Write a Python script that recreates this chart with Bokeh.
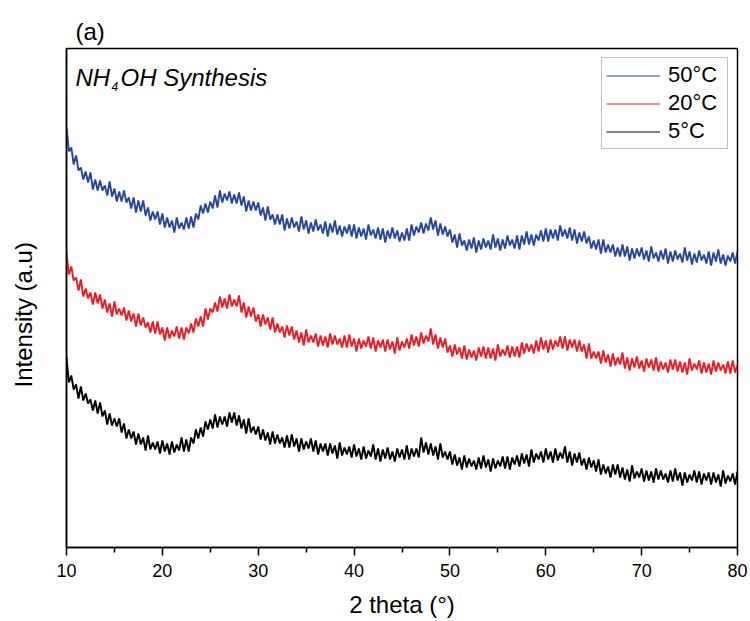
from bokeh.plotting import figure
from bokeh.models import FixedTicker, Label, Legend, LegendItem, Range1d, Title
from bokeh.embed import file_html
from bokeh.resources import INLINE

# 2-theta sampling grid (degrees), 0.25 deg step from 10 to 80
two_theta = [10 + 0.25 * i for i in range(281)]

# Intensity (a.u.).
# *_hi: upper edge of the noisy trace at whole/half degrees
# *_lo: lower edge of the noisy trace at the quarter degrees in between
int_50C_hi = [
    420, 400, 392, 380, 376, 375, 368, 367, 362, 366,
    359, 356, 357, 350, 350, 347, 347, 340, 336, 336,
    334, 330, 327, 330, 325, 330, 331, 334, 342, 344,
    346, 352, 357, 354, 356, 353, 355, 351, 347, 346,
    345, 340, 341, 333, 333, 333, 329, 330, 326, 331,
    327, 325, 328, 323, 326, 324, 327, 322, 321, 323,
    323, 320, 319, 323, 318, 320, 319, 317, 320, 317,
    315, 319, 323, 321, 325, 324, 330, 327, 324, 321,
    318, 313, 314, 307, 308, 310, 307, 309, 307, 313,
    309, 308, 312, 308, 312, 312, 316, 313, 313, 317,
    319, 318, 318, 322, 318, 320, 318, 315, 316, 311,
    307, 308, 308, 303, 303, 300, 303, 301, 299, 299,
    300, 297, 301, 295, 297, 299, 296, 297, 294, 300,
    296, 294, 297, 293, 296, 295, 298, 293, 292, 295,
    296,
]
int_50C_lo = [
    396, 383, 377, 368, 365, 358, 357, 357, 352, 351,
    346, 346, 345, 339, 335, 336, 332, 327, 328, 323,
    320, 320, 315, 319, 318, 319, 320, 328, 334, 335,
    339, 340, 345, 347, 344, 344, 342, 336, 337, 337,
    332, 327, 328, 323, 323, 317, 319, 320, 316, 318,
    314, 316, 317, 314, 311, 315, 313, 311, 314, 311,
    309, 311, 308, 312, 309, 308, 305, 309, 309, 306,
    307, 307, 312, 315, 314, 317, 318, 312, 313, 311,
    305, 300, 302, 297, 299, 295, 298, 300, 298, 300,
    297, 299, 302, 299, 298, 303, 303, 302, 307, 306,
    306, 309, 307, 311, 309, 307, 304, 306, 304, 299,
    298, 294, 295, 295, 291, 291, 291, 287, 289, 291,
    288, 286, 289, 286, 288, 284, 286, 288, 285, 287,
    283, 285, 287, 284, 282, 286, 284, 282, 286, 284,
]
int_20C_hi = [
    295, 281, 270, 268, 259, 255, 255, 253, 248, 244,
    246, 239, 240, 237, 234, 234, 230, 225, 226, 226,
    220, 220, 217, 221, 220, 220, 224, 229, 231, 239,
    239, 245, 251, 249, 253, 248, 252, 245, 241, 240,
    233, 233, 230, 230, 224, 221, 222, 221, 217, 215,
    218, 212, 214, 212, 211, 214, 212, 209, 212, 213,
    209, 209, 207, 211, 210, 207, 208, 208, 206, 210,
    206, 209, 213, 211, 215, 212, 219, 213, 210, 209,
    202, 203, 200, 202, 198, 197, 200, 201, 200, 199,
    203, 198, 202, 201, 201, 205, 204, 203, 207, 210,
    207, 208, 207, 211, 211, 208, 208, 207, 203, 204,
    196, 196, 197, 193, 194, 190, 195, 190, 189, 191,
    187, 189, 188, 190, 186, 185, 188, 188, 186, 185,
    189, 184, 187, 185, 184, 187, 185, 183, 186, 187,
    183,
]
int_20C_lo = [
    273, 267, 257, 251, 249, 243, 244, 239, 235, 231,
    233, 232, 227, 226, 221, 222, 220, 215, 214, 213,
    207, 209, 211, 209, 208, 214, 215, 221, 221, 228,
    235, 236, 240, 239, 241, 241, 235, 230, 231, 226,
    221, 223, 218, 215, 215, 210, 212, 208, 205, 202,
    205, 205, 201, 202, 200, 203, 203, 200, 200, 201,
    196, 199, 201, 199, 196, 200, 196, 198, 194, 197,
    200, 199, 202, 201, 204, 206, 203, 199, 200, 195,
    191, 193, 189, 188, 190, 187, 191, 189, 189, 187,
    191, 192, 190, 191, 190, 194, 196, 194, 196, 198,
    195, 198, 201, 199, 197, 200, 196, 196, 189, 189,
    189, 184, 185, 181, 182, 183, 179, 177, 180, 179,
    176, 180, 177, 176, 178, 175, 178, 176, 175, 173,
    177, 178, 174, 175, 173, 176, 177, 174, 174, 175,
]
int_5C_hi = [
    190, 172, 163, 161, 154, 148, 147, 145, 137, 134,
    129, 129, 124, 118, 116, 114, 110, 112, 105, 106,
    107, 104, 106, 103, 110, 108, 110, 118, 120, 126,
    128, 133, 131, 131, 135, 135, 132, 128, 129, 121,
    121, 118, 115, 116, 113, 110, 112, 113, 109, 109,
    106, 109, 107, 104, 104, 104, 102, 105, 100, 101,
    103, 99, 101, 97, 103, 99, 98, 100, 96, 99,
    98, 102, 99, 99, 110, 105, 104, 101, 104, 96,
    96, 93, 90, 92, 89, 87, 90, 92, 88, 89,
    87, 91, 91, 90, 92, 94, 93, 98, 94, 96,
    99, 96, 99, 95, 101, 96, 94, 95, 89, 90,
    87, 88, 83, 81, 83, 83, 80, 78, 82, 76,
    79, 77, 76, 79, 77, 74, 77, 79, 75, 75,
    73, 77, 76, 74, 75, 75, 73, 77, 72, 74,
    76,
]
int_5C_lo = [
    165, 158, 149, 147, 144, 137, 134, 131, 123, 122,
    121, 115, 109, 109, 103, 103, 97, 98, 98, 94,
    96, 93, 95, 97, 96, 96, 104, 109, 111, 118,
    119, 120, 123, 121, 125, 122, 119, 114, 115, 113,
    108, 107, 103, 104, 104, 100, 100, 101, 96, 98,
    99, 96, 93, 96, 92, 94, 89, 92, 93, 90,
    91, 88, 89, 91, 88, 86, 89, 88, 86, 90,
    88, 88, 91, 90, 95, 93, 92, 88, 90, 88,
    83, 82, 78, 80, 81, 78, 79, 80, 76, 79,
    81, 79, 78, 83, 81, 84, 81, 85, 88, 85,
    88, 85, 87, 89, 85, 82, 85, 82, 78, 80,
    76, 73, 74, 70, 73, 70, 68, 66, 69, 70,
    66, 67, 65, 68, 68, 65, 66, 67, 62, 65,
    67, 65, 63, 67, 63, 65, 61, 64, 66, 63,
]

series_labels = ["50°C", "20°C", "5°C"]
series_colors = ["#27479F", "#EC1C24", "#000000"]
x_ticks = [10, 20, 30, 40, 50, 60, 70, 80]
x_minor = [15, 25, 35, 45, 55, 65, 75]


def interleave(hi, lo):
    assert len(hi) == len(lo) + 1
    out = []
    for a, b in zip(hi[:-1], lo):
        out += [a, b]
    out.append(hi[-1])
    return out


FONT = "Liberation Sans"

p = figure(width=750, height=621, output_backend="svg", toolbar_location=None,
           x_range=Range1d(10, 80), y_range=Range1d(0, 499),
           min_border_left=66, min_border_right=13, min_border_top=48,
           min_border_bottom=74)
p.xgrid.visible = False
p.ygrid.visible = False
p.outline_line_color = "black"
p.outline_line_width = 1.5
p.background_fill_color = "white"
p.border_fill_color = "white"

# panel tag "(a)"
p.title.text = "(a)"
p.title.align = "left"
p.title.offset = 9
p.title.standoff = 8
p.title.text_font = FONT
p.title.text_font_style = "normal"
p.title.text_font_size = "24px"
p.title.text_color = "black"

legend_renderers = []
for hi, lo, c in zip([int_50C_hi, int_20C_hi, int_5C_hi],
                     [int_50C_lo, int_20C_lo, int_5C_lo], series_colors):
    ys = interleave(hi, lo)
    assert len(ys) == len(two_theta)
    p.line(two_theta, ys, line_color=c, line_width=1.9)
    # hidden thin copy, used only for the legend swatch
    legend_renderers.append(p.line(two_theta, ys, line_color=c,
                                   line_width=1, visible=False))

# x axis
xa = p.xaxis[0]
xa.ticker = FixedTicker(ticks=x_ticks, minor_ticks=x_minor)
xa.axis_line_width = 1.5
xa.axis_line_color = "black"
xa.major_tick_in = 0
xa.major_tick_out = 8
xa.major_tick_line_width = 1.5
xa.minor_tick_in = 0
xa.minor_tick_out = 5
xa.minor_tick_line_width = 1.5
xa.major_label_text_font = FONT
xa.major_label_text_font_size = "18px"
xa.major_label_text_color = "black"
xa.major_label_standoff = 8
xa.axis_label = "2 theta (°)"
xa.axis_label_text_font = FONT
xa.axis_label_text_font_style = "normal"
xa.axis_label_text_font_size = "24px"
xa.axis_label_text_color = "black"
xa.axis_label_standoff = 11

# y axis (no ticks / labels)
ya = p.yaxis[0]
ya.axis_line_width = 1.5
ya.axis_line_color = "black"
ya.major_tick_line_color = None
ya.minor_tick_line_color = None
ya.major_tick_out = 0
ya.major_tick_in = 0
ya.minor_tick_out = 0
ya.major_label_standoff = 0
ya.major_label_text_font_size = "0px"
ya.major_label_text_color = None

# blank spacer between the y axis and its title
p.add_layout(Title(text=" ", standoff=9, text_font=FONT,
                   text_font_size="12px"), "left")
# y-axis title
p.add_layout(Title(text="Intensity (a.u)", align="left", offset=160,
                   standoff=10, text_font=FONT, text_font_style="normal",
                   text_font_size="24px", text_color="black"), "left")

# NH4OH Synthesis (with subscript 4)
p.add_layout(Label(x=10.94, y=470, text="NH", text_align="left",
                   text_baseline="alphabetic", text_font=FONT,
                   text_font_style="italic", text_font_size="24px",
                   text_color="black"))
p.add_layout(Label(x=10.94, y=470, x_offset=36, y_offset=-9, text="4",
                   text_align="left", text_baseline="alphabetic",
                   text_font=FONT, text_font_style="italic",
                   text_font_size="12px", text_color="black"))
p.add_layout(Label(x=10.94, y=470, x_offset=45, text="OH Synthesis",
                   text_align="left", text_baseline="alphabetic",
                   text_font=FONT, text_font_style="italic",
                   text_font_size="24px", text_color="black"))

legend = Legend(items=[LegendItem(label=l, renderers=[r])
                       for l, r in zip(series_labels, legend_renderers)],
                location="top_right")
legend.margin = 9
legend.padding = 4
legend.spacing = 2
legend.glyph_width = 54
legend.glyph_height = 25
legend.label_height = 25
legend.label_width = 55
legend.label_standoff = 8
legend.label_text_font = FONT
legend.label_text_font_size = "22px"
legend.label_text_color = "black"
legend.border_line_color = "#808080"
legend.border_line_width = 1
legend.background_fill_alpha = 1.0
legend.inactive_fill_alpha = 0.0
p.add_layout(legend)

open("out.html", "w").write(file_html(p, INLINE))
